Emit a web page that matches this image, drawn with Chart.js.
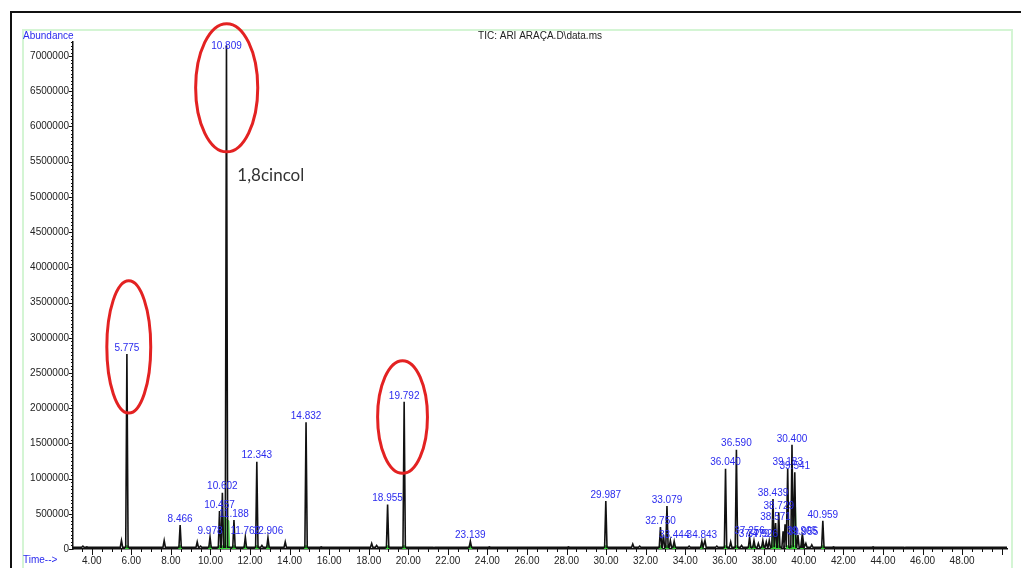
<!DOCTYPE html>
<html lang="pt">
<head>
    <meta charset="UTF-8">
    <title>TIC: ARI ARAÇA</title>
    <script src="https://cdn.jsdelivr.net/npm/chart.js"></script>
    <style>
        body {
            margin: 0;
            padding: 0;
            background: #ffffff;
            font-family: "Liberation Sans", Arial, sans-serif;
        }
        .page {
            position: relative;
            width: 1021px;
            height: 568px;
            overflow: hidden;
        }
        .outer-frame {
            position: absolute;
            left: 10px;
            top: 11px;
            right: -5px;
            bottom: -5px;
            border-top: 2px solid #111;
            border-left: 2px solid #111;
        }
        .green-frame {
            position: absolute;
            left: 22px;
            top: 29px;
            width: 987px;
            height: 540px;
            border: 2px solid #d4f5d4;
        }
        .chart-box {
            position: absolute;
            left: 0;
            top: 0;
            width: 1021px;
            height: 568px;
        }
    </style>
</head>
<body>
    <div class="page">
        <div class="outer-frame"></div>
        <div class="green-frame"></div>
        <div class="chart-box"><canvas id="tic"></canvas></div>
    </div>

    <script>
        // Labelled peaks (retention time in min, abundance)
        const peakTimes = [5.775, 8.466, 9.978, 10.457, 10.602, 10.809, 11.188, 11.762, 12.343, 12.906,
            14.832, 18.955, 19.792, 23.139, 29.987, 32.750, 33.079, 33.444, 34.843, 36.040,
            36.590, 37.256, 37.479, 37.926, 38.439, 38.571, 38.729, 39.183, 39.400, 39.541,
            39.905, 39.955, 40.959];
        const peakAbund = [2770000, 340000, 170000, 540000, 800000, 7150000, 410000, 170000, 1240000, 160000,
            1800000, 630000, 2090000, 110000, 680000, 310000, 610000, 110000, 110000, 1140000,
            1410000, 170000, 120000, 120000, 710000, 370000, 520000, 1140000, 1480000, 1090000,
            170000, 150000, 400000];
        const peakLabels = ['5.775', '8.466', '9.978', '10.457', '10.602', '10.809', '11.188', '11.762', '12.343', '12.906',
            '14.832', '18.955', '19.792', '23.139', '29.987', '32.750', '33.079', '33.444', '34.843', '36.040',
            '36.590', '37.256', '37.479', '37.926', '38.439', '38.571', '38.729', '39.183', '30.400', '39.541',
            '39.905', '39.955', '40.959'];

        // Small unlabelled peaks along the baseline
        const minorTimes = [3.55, 3.75, 5.50, 7.66, 9.33, 9.50, 12.60, 13.78, 15.60, 18.15,
            18.40, 21.30, 24.10, 28.10, 31.35, 31.70, 32.90, 33.25, 34.20, 35.00,
            35.60, 36.30, 36.85, 37.70, 38.10, 38.25, 38.95, 39.05, 39.70, 40.10,
            40.40, 41.50, 43.50, 45.10];
        const minorAbund = [40000, 30000, 120000, 120000, 100000, 40000, 50000, 100000, 30000, 80000,
            50000, 20000, 30000, 30000, 70000, 40000, 200000, 120000, 40000, 120000,
            40000, 100000, 50000, 80000, 100000, 120000, 250000, 350000, 200000, 80000,
            60000, 30000, 30000, 20000];
        const baseline = 25000;

        // Green integration shading
        const greenTimes = [10.64, 10.68, 10.93, 10.97, null, 38.35, 38.45, 38.70, 38.80, null, 39.42, 39.47, 39.58, 39.62];
        const greenAbund = [0, 450000, 400000, 0, null, 0, 250000, 200000, 0, null, 0, 700000, 600000, 0];

        const xTickValues = [4, 6, 8, 10, 12, 14, 16, 18, 20, 22, 24, 26, 28, 30, 32, 34, 36, 38, 40, 42, 44, 46, 48];
        const xTickLabels = ['4.00', '6.00', '8.00', '10.00', '12.00', '14.00', '16.00', '18.00', '20.00', '22.00',
            '24.00', '26.00', '28.00', '30.00', '32.00', '34.00', '36.00', '38.00', '40.00', '42.00', '44.00', '46.00', '48.00'];
        const yTickValues = [0, 500000, 1000000, 1500000, 2000000, 2500000, 3000000, 3500000, 4000000,
            4500000, 5000000, 5500000, 6000000, 6500000, 7000000];

        const xMin = 3.05, xMax = 50.27, yMax = 7200000;

        // Red circles drawn on the figure (centre and radii in data units)
        const circles = [
            { t: 5.87, a: 2870000, rt: 1.11, ra: 940000 },
            { t: 10.82, a: 6550000, rt: 1.57, ra: 910000 },
            { t: 19.71, a: 1875000, rt: 1.26, ra: 800000 }
        ];

        // build the trace: each peak is a narrow spike on the baseline
        const allPeaks = peakTimes.map((t, i) => ({ t: t, a: peakAbund[i] }))
            .concat(minorTimes.map((t, i) => ({ t: t, a: minorAbund[i] })))
            .sort((p, q) => p.t - q.t);
        const trace = [{ x: xMin, y: baseline }];
        allPeaks.forEach(p => {
            trace.push({ x: p.t - 0.06, y: baseline });
            trace.push({ x: p.t, y: p.a });
            trace.push({ x: p.t + 0.06, y: baseline });
        });
        trace.push({ x: xMax, y: baseline });

        const greenData = greenTimes.map((t, i) => ({ x: t === null ? NaN : t, y: greenAbund[i] }));
        const markerData = peakTimes.map(t => ({ x: t, y: baseline }));

        const blue = '#2b2bee';
        const font = '"Liberation Sans", Arial, sans-serif';

        const overlay = {
            id: 'overlay',
            afterDraw(chart) {
                const ctx = chart.ctx;
                const x = chart.scales.x, y = chart.scales.y;
                const area = chart.chartArea;
                ctx.save();

                // axis ticks
                ctx.strokeStyle = '#111';
                ctx.lineWidth = 1;
                ctx.beginPath();
                for (let v = 0; v <= yMax; v += 50000) {
                    const py = Math.round(y.getPixelForValue(v)) + 0.5;
                    const len = v % 500000 === 0 ? 4 : 2;
                    ctx.moveTo(area.left - len, py);
                    ctx.lineTo(area.left, py);
                }
                for (let v = 3.5; v <= xMax; v += 0.5) {
                    const px = Math.round(x.getPixelForValue(v)) + 0.5;
                    const len = v % 2 === 0 ? 6 : 3;
                    ctx.moveTo(px, area.bottom);
                    ctx.lineTo(px, area.bottom + len);
                }
                ctx.stroke();

                // peak labels
                ctx.fillStyle = blue;
                ctx.font = '10px ' + font;
                ctx.textAlign = 'center';
                ctx.textBaseline = 'bottom';
                peakTimes.forEach((t, i) => {
                    const px = x.getPixelForValue(t);
                    const py = y.getPixelForValue(peakAbund[i]);
                    ctx.fillText(peakLabels[i], px, Math.max(py - 1, area.top + 9));
                });

                // header texts
                ctx.textBaseline = 'middle';
                ctx.textAlign = 'left';
                ctx.fillText('Abundance', 23, 36);
                ctx.fillText('Time-->', 23, 560);
                ctx.fillStyle = '#222';
                ctx.textAlign = 'center';
                ctx.fillText('TIC: ARI ARAÇA.D\\data.ms', 540, 36);

                // red circles
                ctx.strokeStyle = '#e32222';
                ctx.lineWidth = 3;
                circles.forEach(c => {
                    const cx = x.getPixelForValue(c.t);
                    const cy = y.getPixelForValue(c.a);
                    const rx = x.getPixelForValue(c.t + c.rt) - cx;
                    const ry = cy - y.getPixelForValue(c.a + c.ra);
                    ctx.beginPath();
                    ctx.ellipse(cx, cy, rx, ry, 0, 0, Math.PI * 2);
                    ctx.stroke();
                });

                // compound note
                ctx.fillStyle = '#333';
                ctx.font = '17px Lato, "Open Sans", sans-serif';
                ctx.textAlign = 'left';
                ctx.fillText('1,8cincol', x.getPixelForValue(11.36), y.getPixelForValue(5300000));

                ctx.restore();
            }
        };

        new Chart(document.getElementById('tic'), {
            type: 'line',
            data: {
                datasets: [
                    {
                        label: 'TIC',
                        data: trace,
                        borderColor: '#111',
                        borderWidth: 1.6,
                        pointRadius: 0,
                        tension: 0,
                        fill: false,
                        order: 1
                    },
                    {
                        label: 'Integration',
                        data: greenData,
                        borderColor: '#44dd44',
                        borderWidth: 1,
                        backgroundColor: 'rgba(100, 230, 100, 0.85)',
                        pointRadius: 0,
                        tension: 0,
                        fill: 'origin',
                        spanGaps: false,
                        order: 3
                    },
                    {
                        type: 'scatter',
                        label: 'Markers',
                        data: markerData,
                        backgroundColor: '#33dd33',
                        borderColor: '#33dd33',
                        pointRadius: 2,
                        pointStyle: 'rect',
                        showLine: false,
                        order: 2
                    }
                ]
            },
            options: {
                responsive: true,
                maintainAspectRatio: false,
                animation: false,
                layout: { padding: { left: 0, right: 14, top: 42, bottom: 0 } },
                plugins: {
                    legend: { display: false },
                    tooltip: { enabled: false },
                    title: { display: false }
                },
                scales: {
                    x: {
                        type: 'linear',
                        min: xMin,
                        max: xMax,
                        afterBuildTicks: s => { s.ticks = xTickValues.map(v => ({ value: v })); },
                        afterFit: s => { s.height = 19; },
                        grid: { display: false, drawTicks: false },
                        border: { display: true, color: '#111', width: 1.5 },
                        ticks: {
                            autoSkip: false,
                            maxRotation: 0,
                            padding: 6,
                            color: '#222',
                            font: { family: font, size: 10 },
                            callback: v => xTickLabels[xTickValues.indexOf(v)]
                        }
                    },
                    y: {
                        min: 0,
                        max: yMax,
                        afterBuildTicks: s => { s.ticks = yTickValues.map(v => ({ value: v })); },
                        afterFit: s => { s.width = 73; },
                        grid: { display: false, drawTicks: false },
                        border: { display: true, color: '#111', width: 1.5 },
                        ticks: {
                            padding: 4,
                            color: '#222',
                            font: { family: font, size: 10 },
                            callback: v => String(v)
                        }
                    }
                }
            },
            plugins: [overlay]
        });
    </script>
</body>
</html>
